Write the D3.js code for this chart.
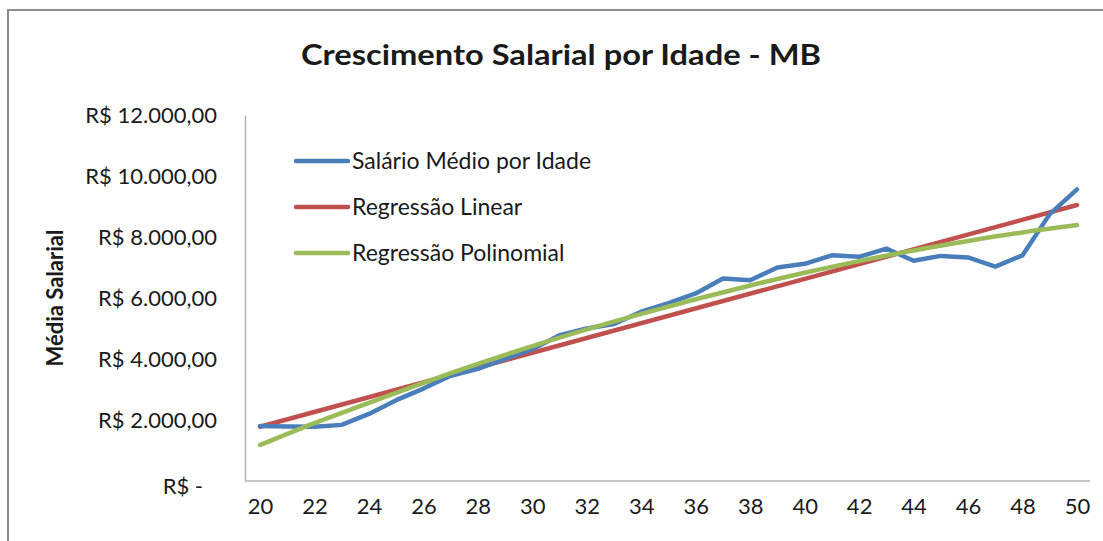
<!DOCTYPE html>
<html>
<head>
<meta charset="utf-8">
<script src="https://cdn.jsdelivr.net/npm/d3@7/dist/d3.min.js"></script>
<style>
  html, body { margin: 0; padding: 0; background: #ffffff; }
  svg { display: block; }
  text { font-family: Lato, "Open Sans", "Liberation Sans", sans-serif; fill: #1a1a1a; }
</style>
</head>
<body>
<svg id="chart" width="1103" height="541"></svg>
<script>
// Idades (eixo X)
const ages = [20,21,22,23,24,25,26,27,28,29,30,31,32,33,34,35,36,37,38,39,40,41,42,43,44,45,46,47,48,49,50];
// Salário médio por idade (R$)
const salaryMean = [1800,1790,1780,1840,2200,2650,3030,3450,3680,4000,4320,4780,5000,5150,5550,5830,6150,6640,6580,7000,7120,7400,7350,7620,7220,7380,7330,7030,7400,8750,9560];
// Regressão linear: extremos da reta
const linearAges = [20, 50];
const linearValues = [1780, 9050];
// Regressão polinomial: valores da curva a cada 2 anos
const polyAges = [20,22,24,26,28,30,32,34,36,38,40,42,44,46,48,50];
const polyValues = [1180,1900,2560,3220,3840,4420,4970,5480,5960,6410,6830,7210,7560,7870,8150,8390];
// Marcas dos eixos
const yTicks = [0,2000,4000,6000,8000,10000,12000];
const xTicks = [20,22,24,26,28,30,32,34,36,38,40,42,44,46,48,50];

const seriesNames = ["Salário Médio por Idade", "Regressão Linear", "Regressão Polinomial"];
const seriesColors = ["#4a7ebb", "#c0504d", "#9bbb59"];

const svg = d3.select("#chart");

// moldura externa do gráfico (lados direito e inferior ficam fora da área visível)
svg.append("path")
  .attr("d", "M8,545V10H1110")
  .attr("fill", "none").attr("stroke", "#8c8c8c").attr("stroke-width", 2);

const x = d3.scaleLinear().domain([20, 50]).range([260, 1077]);
const y = d3.scaleLinear().domain([0, 12000]).range([481, 115]);

// Título
svg.append("text")
  .attr("x", 561).attr("y", 65)
  .attr("text-anchor", "middle")
  .attr("textLength", 520).attr("lengthAdjust", "spacingAndGlyphs")
  .style("font-size", "28px").style("font-weight", "bold")
  .text("Crescimento Salarial por Idade - MB");

// Título do eixo Y
svg.append("text")
  .attr("transform", "translate(63,298) rotate(-90)")
  .attr("text-anchor", "middle")
  .style("font-size", "22px").style("font-weight", "bold")
  .text("Média Salarial");

// Formato monetário brasileiro
const brl = d3.formatLocale({decimal: ",", thousands: ".", grouping: [3], currency: ["R$ ", ""]});
const fmt = brl.format("$,.2f");

// Eixo Y
const yAxis = svg.append("g")
  .attr("transform", "translate(245,0)")
  .call(d3.axisLeft(y).tickValues(yTicks).tickSize(0).tickPadding(28)
    .tickFormat(d => d === 0 ? "R$ -" : fmt(d)));
yAxis.select(".domain").attr("stroke", "#b3b3b3").attr("stroke-width", 1.5);
yAxis.selectAll(".tick text")
  .style("font-size", "22px").style("font-family", "Lato, 'Open Sans', sans-serif")
  .attr("fill", "#1a1a1a")
  .attr("dx", d => d === 0 ? -14 : 0)
  .attr("dy", d => d === 0 ? "0.55em" : "0.32em");

// Eixo X
const xAxis = svg.append("g")
  .attr("transform", "translate(0,481)")
  .call(d3.axisBottom(x).tickValues(xTicks).tickSize(0).tickPadding(17)
    .tickFormat(d3.format("d")));
xAxis.select(".domain").attr("stroke", "#b3b3b3").attr("stroke-width", 1.5)
  .attr("d", `M${245},0H1090`);
xAxis.selectAll(".tick text")
  .style("font-size", "22px").style("font-family", "Lato, 'Open Sans', sans-serif")
  .attr("fill", "#1a1a1a");

const line = d3.line().x(d => x(d[0])).y(d => y(d[1]));

const seriesData = [
  ages.map((a, i) => [a, salaryMean[i]]),
  linearAges.map((a, i) => [a, linearValues[i]]),
  polyAges.map((a, i) => [a, polyValues[i]])
];

// ordem de desenho: linear, salário, polinomial
const drawOrder = [1, 0, 2];
drawOrder.forEach(k => {
  svg.append("path")
    .datum(seriesData[k])
    .attr("fill", "none")
    .attr("stroke", seriesColors[k])
    .attr("stroke-width", 4.5)
    .attr("stroke-linejoin", "round")
    .attr("stroke-linecap", "round")
    .attr("d", k === 2 ? line.curve(d3.curveMonotoneX)(seriesData[k]) : line.curve(d3.curveLinear)(seriesData[k]));
});

// Legenda
const legend = svg.append("g");
const legendY = [161, 207, 253];
seriesNames.forEach((name, i) => {
  legend.append("line")
    .attr("x1", 296).attr("x2", 348)
    .attr("y1", legendY[i]).attr("y2", legendY[i])
    .attr("stroke", seriesColors[i]).attr("stroke-width", 4.5)
    .attr("stroke-linecap", "round");
  legend.append("text")
    .attr("x", 352).attr("y", legendY[i])
    .attr("dy", "0.35em")
    .style("font-size", "23px")
    .text(name);
});
</script>
</body>
</html>
